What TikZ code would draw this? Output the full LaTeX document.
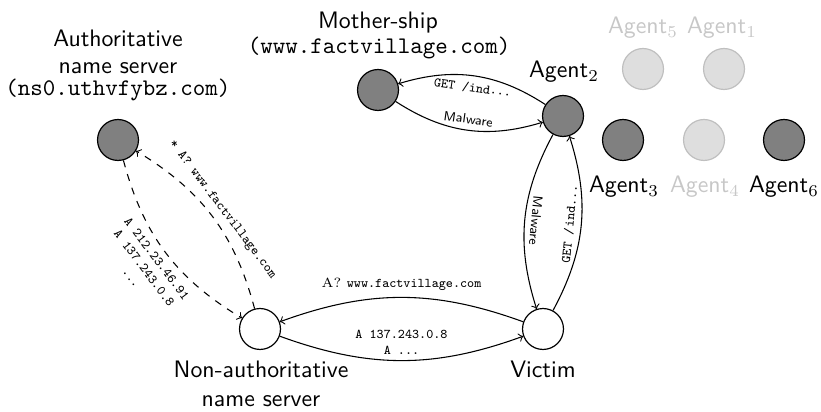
\documentclass[tikz,border=0pt]{standalone}
\usetikzlibrary{arrows}
\begin{document}
\begin{tikzpicture}[x=0.42pt,y=-0.42pt,
  host/.style={circle,draw,line width=0.5pt,minimum size=17.2pt,inner sep=0pt},
  darkhost/.style={host,fill=black!50},
  lighthost/.style={host,fill=black!13,draw=black!25},
  whitehost/.style={host,fill=white},
  lbl/.style={font=\sffamily,anchor=base,inner sep=0pt},
  faint/.style={text=black!22},
  msg/.style={font=\fontsize{5.6}{6.6}\selectfont\ttfamily,inner sep=2.5pt},
  msgsf/.style={font=\fontsize{5.6}{6.6}\selectfont\sffamily,inner sep=2.5pt},
  msgrm/.style={font=\fontsize{5.6}{6.6}\selectfont\rmfamily,inner sep=2.5pt},
  link/.style={->,line width=0.45pt},
  query/.style={link,dashed}]
\useasboundingbox (0,0) rectangle (821,412);

% hosts
\node[darkhost]  (auth)    at (118,140) {};
\node[darkhost]  (mother)  at (378,90)  {};
\node[darkhost]  (agent2)  at (563,116) {};
\node[lighthost] (agent5)  at (643,69)  {};
\node[lighthost] (agent1)  at (724,69)  {};
\node[darkhost]  (agent3)  at (623,140) {};
\node[lighthost] (agent4)  at (704,140) {};
\node[darkhost]  (agent6)  at (784,140) {};
\node[whitehost] (nonauth) at (260,329) {};
\node[whitehost] (victim)  at (543,329) {};

% host names
\node[lbl] (authA) at (118,46.7) {Authoritative};
\node[lbl] (authB) at (118,73.3) {name server};
\node[lbl] (authC) at (118,96) {\ttfamily(ns0.uthvfybz.com)};
\node[lbl] (motherA) at (378,28.3) {Mother-ship};
\node[lbl] (motherB) at (379,53.3) {\ttfamily(www.factvillage.com)};
\node[lbl] (agent2lbl) at (564,78) {Agent$_2$};
\node[lbl,faint] (agent5lbl) at (643,34) {Agent$_5$};
\node[lbl,faint] (agent1lbl) at (722,34) {Agent$_1$};
\node[lbl] (agent3lbl) at (624,193) {Agent$_3$};
\node[lbl,faint] (agent4lbl) at (705,193) {Agent$_4$};
\node[lbl] (agent6lbl) at (784,193) {Agent$_6$};
\node[lbl] (nonauthA) at (261,378) {Non-authoritative};
\node[lbl] (nonauthB) at (261,407) {name server};
\node[lbl] (victimlbl) at (543,378) {Victim};

% DNS resolution
\draw[link] (victim) to[bend right=20]
  node[msgrm,above] {A? \texttt{www.factvillage.com}} (nonauth);
\draw[link] (nonauth) to[bend right=20]
  node[msg,above,align=center] {A 137.243.0.8\\A ...} (victim);
\draw[query] (nonauth) to[bend right=22]
  node[msg,sloped,above] {* A? www.factvillage.com} (auth);
\draw[query] (auth) to[bend right=22]
  node[msg,sloped,below,align=center] {A 212.23.46.91\\A 137.243.0.8\\...} (nonauth);

% malware traffic
\draw[link] (agent2) to[bend right=25]
  node[msg,sloped,below] {GET /ind...} (mother);
\draw[link] (mother) to[bend right=25]
  node[msgsf,sloped,above] {Malware} (agent2);
\draw[link] (agent2) to[bend right=23]
  node[msgsf,sloped,allow upside down,above] {Malware} (victim);
\draw[link] (victim) to[bend right=23]
  node[msg,sloped,above] {GET /ind...} (agent2);
\end{tikzpicture}
\end{document}
